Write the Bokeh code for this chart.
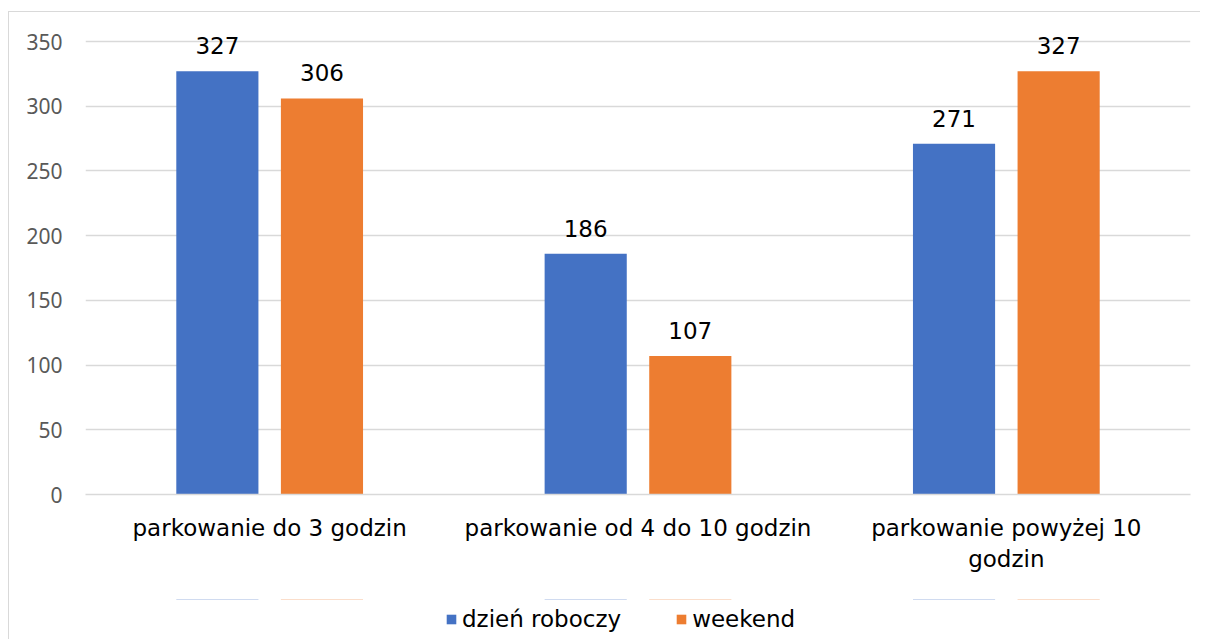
from bokeh.plotting import figure
from bokeh.layouts import column
from bokeh.models import (ColumnDataSource, FactorRange, Range1d, FixedTicker,
                          Legend, LegendItem, LabelSet)
from bokeh.core.properties import value
from bokeh.transform import dodge
from bokeh.embed import file_html
from bokeh.resources import INLINE

categories = ["parkowanie do 3 godzin", "parkowanie od 4 do 10 godzin", "parkowanie powyżej 10\ngodzin"]
series_names = ["dzień roboczy", "weekend"]
workday = [327, 186, 271]
weekend = [306, 107, 327]
y_ticks = [0, 50, 100, 150, 200, 250, 300, 350]

BLUE = "#4472C4"
ORANGE = "#ED7D31"
TXT_FONT = "DejaVu Sans"

src = ColumnDataSource(dict(cat=categories, workday=workday, weekend=weekend,
                            wlab=[str(v) for v in workday], elab=[str(v) for v in weekend]))

# 453 px for 0..350; extra 20 px of headroom above the top gridline for the data labels
PX_PER_UNIT = 453 / 350
xr = FactorRange(*categories, range_padding=0, group_padding=0)
p = figure(x_range=xr, y_range=Range1d(0, 350 + 20 / PX_PER_UNIT),
           frame_width=1105, frame_height=473,
           output_backend="svg", toolbar_location=None,
           min_border_left=76, min_border_right=10, min_border_top=9, min_border_bottom=105)

p.vbar(x=dodge("cat", -0.142, range=xr), top="workday", width=0.223, source=src,
       fill_color=BLUE, line_color=None)
p.vbar(x=dodge("cat", 0.142, range=xr), top="weekend", width=0.223, source=src,
       fill_color=ORANGE, line_color=None)

for col, off, top in (("wlab", -0.142, "workday"), ("elab", 0.142, "weekend")):
    p.add_layout(LabelSet(x=dodge("cat", off, range=xr), y=top, text=col, source=src,
                          text_align="center", text_baseline="alphabetic", y_offset=17,
                          text_font=value(TXT_FONT), text_font_size=value("23px"),
                          text_color="#000000"))

p.outline_line_color = None
p.xgrid.grid_line_color = None
p.ygrid.grid_line_color = "#d9d9d9"
p.ygrid.grid_line_width = 1.3
p.yaxis.ticker = FixedTicker(ticks=y_ticks)
p.yaxis.axis_line_color = None
p.yaxis.major_tick_line_color = None
p.yaxis.minor_tick_line_color = None
p.yaxis.major_tick_out = 0
p.yaxis.major_tick_in = 0
p.yaxis.major_label_text_font = "Noto Sans"
p.yaxis.major_label_text_font_size = "21px"
p.yaxis.major_label_text_color = "#595959"
p.yaxis.major_label_standoff = 23

p.xaxis.axis_line_color = "#d9d9d9"
p.xaxis.axis_line_width = 1.3
p.xaxis.major_tick_line_color = None
p.xaxis.major_tick_out = 0
p.xaxis.major_tick_in = 0
p.xaxis.major_label_standoff = 20
p.xaxis.major_label_text_font = TXT_FONT
p.xaxis.major_label_text_font_size = "23px"
p.xaxis.major_label_text_color = "#000000"

# legend strip below the chart (its bars lie outside its y view, only the legend shows)
pl = figure(x_range=xr, y_range=Range1d(-2, -1), width=1191, height=40,
            output_backend="svg", toolbar_location=None,
            x_axis_type=None, y_axis_type=None,
            min_border_left=0, min_border_right=0, min_border_top=0, min_border_bottom=0)
pl.outline_line_color = None
pl.xgrid.grid_line_color = None
pl.ygrid.grid_line_color = None
lr1 = pl.vbar(x=dodge("cat", -0.142, range=xr), top="workday", width=0.223, source=src,
              fill_color=BLUE, line_color=None)
lr2 = pl.vbar(x=dodge("cat", 0.142, range=xr), top="weekend", width=0.223, source=src,
              fill_color=ORANGE, line_color=None)
legend = Legend(items=[LegendItem(label=series_names[0], renderers=[lr1], index=0),
                       LegendItem(label=series_names[1], renderers=[lr2], index=0)],
                orientation="horizontal", location=(360, 7),
                label_text_font=TXT_FONT, label_text_font_size="23px", label_text_color="#000000",
                glyph_width=12, glyph_height=12, label_standoff=5, spacing=54,
                border_line_color=None, background_fill_alpha=0, margin=0, padding=0)
pl.add_layout(legend, "center")

layout = column(p, pl, spacing=0)
layout.styles = {"border-top": "1px solid #d9d9d9", "border-left": "1px solid #d9d9d9",
                 "margin-top": "11px", "margin-left": "8px"}

open("out.html", "w").write(file_html(layout, INLINE))
